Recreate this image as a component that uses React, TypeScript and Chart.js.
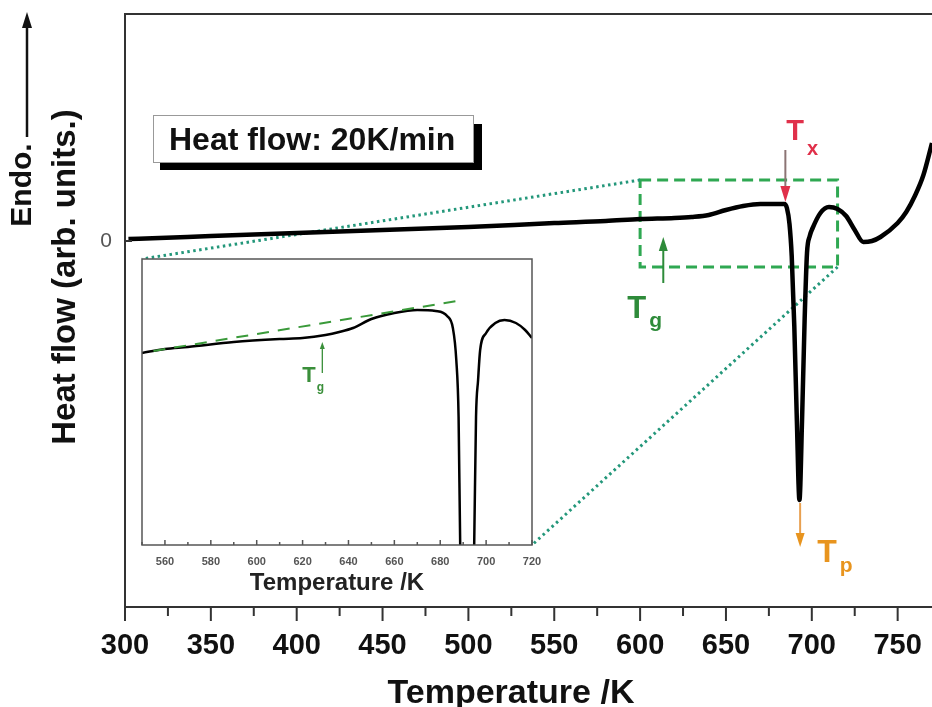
import React, { useEffect, useRef } from "react";
import { Chart, registerables } from "chart.js";

Chart.register(...registerables);

const FONT = "'Liberation Sans', Arial, Helvetica, sans-serif";

// ---- Main DSC trace (temperature in K, heat flow in arb. units) ----
const mainTemp = [302, 320, 350, 400, 450, 500, 550, 580, 600, 620, 630, 640, 650, 660, 670, 680, 684, 685.5, 687, 688.3, 689.8, 691.3, 692.8, 694.3, 695.8, 697.2, 698.8, 700.5, 705, 710, 715, 720, 725, 730, 735, 740, 750, 755, 760, 765, 770];
const mainFlow = [0.02, 0.03, 0.05, 0.08, 0.11, 0.14, 0.18, 0.2, 0.22, 0.23, 0.24, 0.26, 0.31, 0.35, 0.37, 0.37, 0.37, 0.33, 0.17, -0.15, -0.85, -1.8, -2.59, -1.8, -0.8, -0.12, 0.05, 0.13, 0.28, 0.34, 0.32, 0.25, 0.11, -0.01, 0.0, 0.04, 0.18, 0.29, 0.45, 0.66, 0.98];
const mainXTicks = [300, 350, 400, 450, 500, 550, 600, 650, 700, 750];
const mainXMinor = [325, 375, 425, 475, 525, 575, 625, 675, 725];
const mainYTicks = [0];

// ---- Inset (zoom of the glass transition region) ----
const insetTemp = [550, 560, 570, 590, 610, 620, 630, 636, 642, 650, 660, 670, 678, 683, 685.5, 687, 688, 688.7, 690.5, 692, 693.5, 694.8, 695.6, 696.5, 697.4, 700, 704, 708, 713, 717, 720];
const insetFlow = [1.92, 1.96, 1.98, 2.03, 2.06, 2.07, 2.1, 2.13, 2.17, 2.26, 2.32, 2.35, 2.34, 2.29, 2.17, 1.85, 1.28, 0.0, -1.5, -2.2, -1.5, 0.0, 1.28, 1.65, 1.95, 2.12, 2.22, 2.25, 2.22, 2.15, 2.07];
const tangentTemp = [555, 690];
const tangentFlow = [1.94, 2.45];
const insetXTicks = [560, 580, 600, 620, 640, 660, 680, 700, 720];
const insetXMinor = [550, 570, 590, 610, 630, 650, 670, 690, 710];

// ---- Characteristic temperatures and marked region ----
const T_X = 684.6;
const T_G = 613.5;
const T_P = 693.2;
const T_G_INSET = 628.6;
const zoomBoxTemp = [600, 715];
const zoomBoxFlow = [0.61, -0.26];

// layout constants (pixels)
const INSET = { left: 142, top: 259, right: 532, bottom: 545 };

function arrow(ctx: CanvasRenderingContext2D, x1: number, y1: number, x2: number, y2: number, lineColor: string, headColor: string, lw: number, headLen: number, headW: number) {
  const ang = Math.atan2(y2 - y1, x2 - x1);
  const bx = x2 - headLen * Math.cos(ang);
  const by = y2 - headLen * Math.sin(ang);
  ctx.save();
  ctx.setLineDash([]);
  ctx.strokeStyle = lineColor;
  ctx.lineWidth = lw;
  ctx.beginPath();
  ctx.moveTo(x1, y1);
  ctx.lineTo(bx, by);
  ctx.stroke();
  ctx.fillStyle = headColor;
  ctx.beginPath();
  ctx.moveTo(x2, y2);
  ctx.lineTo(bx + (headW / 2) * Math.sin(ang), by - (headW / 2) * Math.cos(ang));
  ctx.lineTo(bx - (headW / 2) * Math.sin(ang), by + (headW / 2) * Math.cos(ang));
  ctx.closePath();
  ctx.fill();
  ctx.restore();
}

function subText(ctx: CanvasRenderingContext2D, x: number, y: number, main: string, sub: string, color: string, size: number, subSize: number, subDx: number, subDy: number) {
  ctx.save();
  ctx.fillStyle = color;
  ctx.textAlign = "left";
  ctx.textBaseline = "alphabetic";
  ctx.font = `bold ${size}px ${FONT}`;
  ctx.fillText(main, x, y);
  const w = ctx.measureText(main).width;
  ctx.font = `bold ${subSize}px ${FONT}`;
  ctx.fillText(sub, x + w + subDx, y + subDy);
  ctx.restore();
}

function noPad(scale: any) {
  scale.paddingTop = 0;
  scale.paddingBottom = 0;
  scale.paddingLeft = 0;
  scale.paddingRight = 0;
}

const mainDecor = {
  id: "mainDecor",
  beforeDatasetsDraw(chart: any) {
    const { ctx, scales } = chart;
    const xs = scales.x;
    const ys = scales.y;
    const x1 = xs.getPixelForValue(zoomBoxTemp[0]);
    const x2 = xs.getPixelForValue(zoomBoxTemp[1]);
    const y1 = ys.getPixelForValue(zoomBoxFlow[0]);
    const y2 = ys.getPixelForValue(zoomBoxFlow[1]);
    ctx.save();
    ctx.strokeStyle = "#2fa852";
    ctx.lineWidth = 3;
    ctx.setLineDash([11, 6]);
    ctx.strokeRect(x1, y1, x2 - x1, y2 - y1);
    ctx.strokeStyle = "#23977a";
    ctx.lineWidth = 3;
    ctx.setLineDash([2.5, 3.5]);
    ctx.beginPath();
    ctx.moveTo(x1, y1);
    ctx.lineTo(INSET.left, INSET.top);
    ctx.moveTo(x2, y2);
    ctx.lineTo(INSET.right, INSET.bottom);
    ctx.stroke();
    ctx.restore();
  },
  afterDraw(chart: any) {
    const { ctx, scales, chartArea } = chart;
    const xs = scales.x;
    const ys = scales.y;
    ctx.save();
    ctx.strokeStyle = "#333";
    ctx.lineWidth = 2;
    ctx.beginPath();
    ctx.moveTo(chartArea.left, chartArea.top);
    ctx.lineTo(chartArea.right, chartArea.top);
    ctx.stroke();
    ctx.beginPath();
    mainXTicks.forEach((v) => {
      const px = xs.getPixelForValue(v);
      ctx.moveTo(px, chartArea.bottom);
      ctx.lineTo(px, chartArea.bottom + 14);
    });
    mainXMinor.forEach((v) => {
      const px = xs.getPixelForValue(v);
      ctx.moveTo(px, chartArea.bottom);
      ctx.lineTo(px, chartArea.bottom + 9);
    });
    mainYTicks.forEach((v) => {
      const py = ys.getPixelForValue(v);
      ctx.moveTo(chartArea.left, py);
      ctx.lineTo(chartArea.left + 7, py);
    });
    ctx.stroke();

    ctx.fillStyle = "#111";
    ctx.font = `bold 34px ${FONT}`;
    ctx.textAlign = "center";
    ctx.textBaseline = "alphabetic";
    ctx.fillText("Temperature /K", 511, 703);

    ctx.save();
    ctx.translate(66, 277);
    ctx.rotate(-Math.PI / 2);
    ctx.textBaseline = "middle";
    ctx.font = `bold 33px ${FONT}`;
    ctx.fillText("Heat flow (arb. units.)", 0, 0);
    ctx.restore();

    ctx.save();
    ctx.translate(23, 185);
    ctx.rotate(-Math.PI / 2);
    ctx.textBaseline = "middle";
    ctx.font = `bold 30px ${FONT}`;
    ctx.fillText("Endo.", 0, 0);
    ctx.restore();
    arrow(ctx, 27, 137, 27, 12, "#111", "#111", 2.5, 16, 10);

    ctx.fillStyle = "#000";
    ctx.fillRect(160, 124, 322, 46);
    ctx.fillStyle = "#fff";
    ctx.fillRect(153, 115, 320, 47);
    ctx.strokeStyle = "#999";
    ctx.lineWidth = 1;
    ctx.strokeRect(153.5, 115.5, 320, 47);
    ctx.fillStyle = "#111";
    ctx.textAlign = "left";
    ctx.textBaseline = "alphabetic";
    ctx.font = `bold 32px ${FONT}`;
    ctx.fillText("Heat flow: 20K/min", 169, 150);

    const txX = xs.getPixelForValue(T_X);
    const txTop = ys.getPixelForValue(0.91);
    const txBot = ys.getPixelForValue(0.39);
    arrow(ctx, txX, txTop, txX, txBot, "#8c7474", "#e0304a", 2, 16, 10);
    subText(ctx, txX + 1, txTop - 10, "T", "x", "#e0304a", 29, 20, 3, 15);

    const tgX = xs.getPixelForValue(T_G);
    const tgBot = ys.getPixelForValue(-0.42);
    const tgTop = ys.getPixelForValue(0.04);
    arrow(ctx, tgX, tgBot, tgX, tgTop, "#2e8b3a", "#2e8b3a", 2, 14, 9);
    subText(ctx, tgX - 36, tgBot + 35, "T", "g", "#2e8b3a", 31, 21, 3, 9);

    const tpX = xs.getPixelForValue(T_P);
    const tpTop = ys.getPixelForValue(-2.62);
    const tpBot = ys.getPixelForValue(-3.06);
    arrow(ctx, tpX, tpTop, tpX, tpBot, "#e8a050", "#e8941e", 2, 14, 9);
    subText(ctx, tpX + 17, tpBot + 15, "T", "p", "#e8941e", 32, 21, 3, 10);
    ctx.restore();
  },
};

const insetDecor = {
  id: "insetDecor",
  beforeDraw(chart: any) {
    const { ctx, chartArea } = chart;
    ctx.save();
    ctx.fillStyle = "#fff";
    ctx.fillRect(chartArea.left, chartArea.top, chartArea.right - chartArea.left, chartArea.bottom - chartArea.top);
    ctx.restore();
  },
  afterDraw(chart: any) {
    const { ctx, chartArea, scales } = chart;
    const xs = scales.x;
    const ys = scales.y;
    ctx.save();
    ctx.strokeStyle = "#555";
    ctx.lineWidth = 1.5;
    ctx.strokeRect(chartArea.left, chartArea.top, chartArea.right - chartArea.left, chartArea.bottom - chartArea.top);
    ctx.beginPath();
    insetXTicks.forEach((v) => {
      const px = xs.getPixelForValue(v);
      ctx.moveTo(px, chartArea.bottom);
      ctx.lineTo(px, chartArea.bottom - 5);
    });
    insetXMinor.forEach((v) => {
      const px = xs.getPixelForValue(v);
      ctx.moveTo(px, chartArea.bottom);
      ctx.lineTo(px, chartArea.bottom - 3);
    });
    ctx.stroke();
    const gx = xs.getPixelForValue(T_G_INSET);
    const gBot = ys.getPixelForValue(1.72);
    const gTop = ys.getPixelForValue(2.03);
    arrow(ctx, gx, gBot, gx, gTop, "#3a8f3a", "#3a8f3a", 1.3, 7, 5);
    subText(ctx, gx - 20, gBot + 9, "T", "g", "#3a8f3a", 22, 12, 1, 9);
    ctx.restore();
  },
};

export default function App() {
  const mainRef = useRef<HTMLCanvasElement | null>(null);
  const insetRef = useRef<HTMLCanvasElement | null>(null);

  useEffect(() => {
    if (!mainRef.current || !insetRef.current) return;
    const main = new Chart(mainRef.current, {
      type: "line",
      data: {
        datasets: [
          {
            data: mainTemp.map((t, i) => ({ x: t, y: mainFlow[i] })),
            borderColor: "#000",
            borderWidth: 4.5,
            pointRadius: 0,
            fill: false,
            cubicInterpolationMode: "monotone",
          },
        ],
      },
      options: {
        responsive: false,
        animation: false,
        events: [],
        layout: { autoPadding: false, padding: { top: 14, right: 0, left: 0, bottom: 0 } },
        plugins: { legend: { display: false }, tooltip: { enabled: false } },
        scales: {
          x: {
            type: "linear",
            min: 300,
            max: 770,
            afterBuildTicks: (axis: any) => {
              axis.ticks = mainXTicks.map((v) => ({ value: v }));
            },
            afterFit: (scale: any) => {
              scale.height = 100;
              noPad(scale);
            },
            grid: { display: false, drawTicks: false },
            border: { display: true, color: "#333", width: 2 },
            ticks: {
              autoSkip: false,
              maxRotation: 0,
              padding: 22,
              color: "#111",
              font: { family: FONT, size: 29, weight: "bold" },
            },
            title: { display: false },
          },
          y: {
            type: "linear",
            min: -3.66,
            max: 2.27,
            afterBuildTicks: (axis: any) => {
              axis.ticks = mainYTicks.map((v) => ({ value: v }));
            },
            afterFit: (scale: any) => {
              scale.width = 125;
              noPad(scale);
            },
            grid: { display: false, drawTicks: false },
            border: { display: true, color: "#333", width: 2 },
            ticks: {
              padding: 13,
              color: "#555",
              font: { family: FONT, size: 21 },
            },
          },
        },
      },
      plugins: [mainDecor],
    } as any);

    const inset = new Chart(insetRef.current, {
      type: "line",
      data: {
        datasets: [
          {
            data: tangentTemp.map((t, i) => ({ x: t, y: tangentFlow[i] })),
            borderColor: "#3a9a3a",
            borderWidth: 2,
            borderDash: [12, 9],
            pointRadius: 0,
            fill: false,
          },
          {
            data: insetTemp.map((t, i) => ({ x: t, y: insetFlow[i] })),
            borderColor: "#000",
            borderWidth: 2.5,
            pointRadius: 0,
            fill: false,
            cubicInterpolationMode: "monotone",
          },
        ],
      },
      options: {
        responsive: false,
        animation: false,
        events: [],
        layout: { autoPadding: false, padding: { top: 9, right: 18, left: 22, bottom: 0 } },
        plugins: { legend: { display: false }, tooltip: { enabled: false } },
        scales: {
          x: {
            type: "linear",
            min: 550,
            max: 720,
            afterBuildTicks: (axis: any) => {
              axis.ticks = insetXTicks.map((v) => ({ value: v }));
            },
            afterFit: (scale: any) => {
              scale.height = 55;
              noPad(scale);
            },
            grid: { display: false, drawTicks: false },
            border: { display: false },
            ticks: {
              autoSkip: false,
              maxRotation: 0,
              padding: 10,
              color: "#555",
              font: { family: FONT, size: 11, weight: "bold" },
            },
            title: {
              display: true,
              text: "Temperature /K",
              color: "#222",
              font: { family: FONT, size: 24, weight: "bold" },
              padding: { top: 0, bottom: 2 },
            },
          },
          y: {
            type: "linear",
            display: false,
            min: 0,
            max: 2.86,
          },
        },
      },
      plugins: [insetDecor],
    } as any);

    return () => {
      main.destroy();
      inset.destroy();
    };
  }, []);

  return (
    <div style={{ position: "absolute", left: 0, top: 0, width: 932, height: 707, background: "#fff" }}>
      <canvas ref={mainRef} width={932} height={707} style={{ position: "absolute", left: 0, top: 0 }} />
      <canvas ref={insetRef} width={430} height={350} style={{ position: "absolute", left: 120, top: 250 }} />
    </div>
  );
}
